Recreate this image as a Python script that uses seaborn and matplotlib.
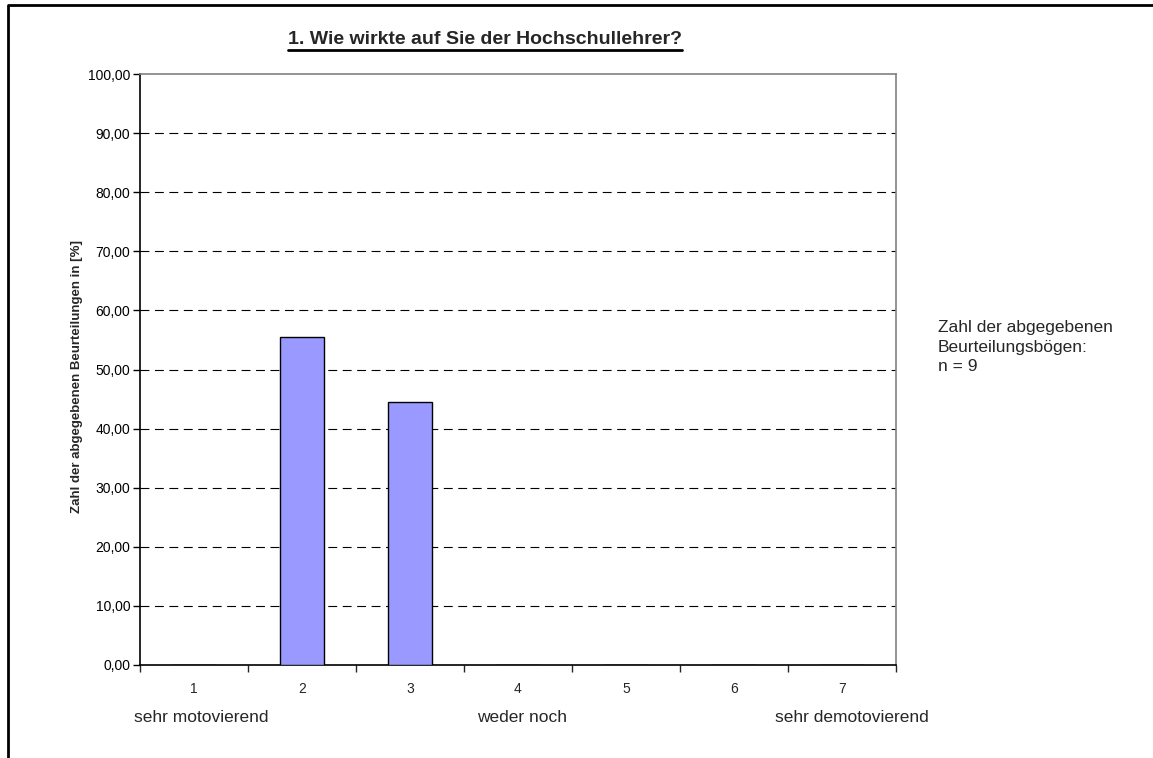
import matplotlib
matplotlib.use("Agg")
import matplotlib.pyplot as plt
import pandas as pd
import seaborn as sns
from matplotlib.lines import Line2D
from matplotlib.ticker import FixedLocator, FuncFormatter

## Data ##
categories = ["1", "2", "3", "4", "5", "6", "7"]
percent = [0.0, 55.56, 44.44, 0.0, 0.0, 0.0, 0.0]
y_ticks = [0, 10, 20, 30, 40, 50, 60, 70, 80, 90, 100]
scale_labels = ["sehr motovierend", "weder noch", "sehr demotovierend"]
title_text = "1. Wie wirkte auf Sie der Hochschullehrer?"
ylabel_text = "Zahl der abgegebenen Beurteilungen in [%]"
note_text = "Zahl der abgegebenen\nBeurteilungsbögen:\nn = 9"

df = pd.DataFrame({"kategorie": categories, "prozent": percent})

sns.set_style("white")
plt.rcParams["font.family"] = ["Liberation Sans", "DejaVu Sans"]

fig = plt.figure(figsize = (11.53, 7.58), dpi = 100)
ax = fig.add_axes([140 / 1153, 1 - 665 / 758, (896 - 140) / 1153, (665 - 74) / 758])

## Bars ##
sns.barplot(data = df, x = "kategorie", y = "prozent", ax = ax, color = "#9999FF",
            saturation = 1, width = 0.4, edgecolor = "black", linewidth = 1.0, zorder = 3)

ax.set_xlim(-0.5, 6.5)
ax.set_ylim(0, 100)

## Y axis ##
ax.set_yticks(y_ticks)
ax.yaxis.set_major_formatter(FuncFormatter(lambda v, p: f"{v:.2f}".replace(".", ",")))
ax.tick_params(axis = "y", direction = "out", length = 5, width = 1, labelsize = 10,
               left = True, pad = 2, colors = "black")

## Grid (dashed, not at 0 / 100) ##
for v in y_ticks[1:-1]:
    ax.axhline(v, color = "black", linestyle = (0, (8, 5)), linewidth = 0.8, zorder = 1)

## X axis: ticks on category boundaries, labels in the middle ##
ax.xaxis.set_major_locator(FixedLocator([i - 0.5 for i in range(len(categories) + 1)]))
ax.xaxis.set_major_formatter(FuncFormatter(lambda v, p: ""))
ax.xaxis.set_minor_locator(FixedLocator(list(range(len(categories)))))
ax.set_xticklabels(categories, minor = True)
ax.tick_params(axis = "x", which = "major", direction = "out", length = 5, width = 1, bottom = True)
ax.tick_params(axis = "x", which = "minor", length = 0, labelsize = 10, pad = 12)
ax.set_xlabel("")

ax.set_ylabel(ylabel_text, fontsize = 9.5, fontweight = "bold")
ax.yaxis.set_label_coords(-0.075, 0.489)

## Spines ##
for s in ["left", "bottom"]:
    ax.spines[s].set_color("black")
    ax.spines[s].set_linewidth(1.2)
for s in ["top", "right"]:
    ax.spines[s].set_color("#808080")
    ax.spines[s].set_linewidth(1.2)

## Title (underlined) ##
title = fig.text(485 / 1153, 1 - 40 / 758, title_text, ha = "center", va = "center",
                 fontsize = 14, fontweight = "bold")
fig.canvas.draw()
bb = title.get_window_extent().transformed(fig.transFigure.inverted())
fig.add_artist(Line2D([bb.x0, bb.x1], [bb.y0 - 0.002, bb.y0 - 0.002], transform = fig.transFigure,
                      color = "black", linewidth = 2))

## Scale labels under the axis ##
fig.text(134 / 1153, 1 - 717 / 758, scale_labels[0], ha = "left", va = "center", fontsize = 12.5)
fig.text(477 / 1153, 1 - 717 / 758, scale_labels[1], ha = "left", va = "center", fontsize = 12.5)
fig.text(775 / 1153, 1 - 717 / 758, scale_labels[2], ha = "left", va = "center", fontsize = 12.5)

## Note on the right ##
fig.text(938 / 1153, 1 - 320 / 758, note_text, ha = "left", va = "top", fontsize = 12.5,
         linespacing = 1.38)

## Figure border (top and left visible) ##
fig.add_artist(Line2D([8 / 1153, 8 / 1153, 1.01], [-0.01, 1 - 5 / 758, 1 - 5 / 758],
                      transform = fig.transFigure, color = "black", linewidth = 2))

fig.savefig("out.png", dpi = 100)
